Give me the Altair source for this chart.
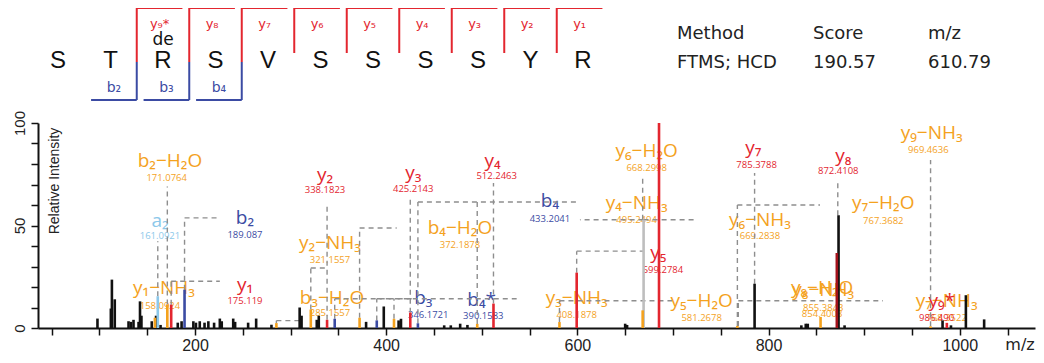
import altair as alt
import pandas as pd

# ---------------- spectrum data ----------------
# unannotated (black) peaks: m/z and relative intensity
other_mz = [
    98.0, 112.0, 113.1, 116.1, 130.5, 133.0, 135.7, 141.0, 142.5, 144.0,
    154.8, 159.3, 164.0, 182.0, 186.0, 198.3, 201.0, 205.0, 210.0, 214.0,
    220.0, 226.0, 228.0, 240.0, 242.0, 255.6, 264.0, 280.0, 309.5, 311.5,
    327.4, 329.5, 379.0, 397.5, 413.0, 415.5, 460.7, 467.6, 477.4, 485.0,
    650.0, 652.0, 834.3, 838.9, 841.0, 879.5, 982.0, 990.8, 1006.4, 1025.5,
    785.38, 873.2]
other_int = [
    4.6, 9.5, 23.6, 14.0, 3.3, 3.0, 4.0, 3.0, 13.0, 6.0,
    3.3, 6.0, 1.5, 2.6, 3.3, 3.3, 2.6, 3.3, 2.6, 3.3,
    2.6, 4.6, 3.3, 4.6, 3.0, 2.6, 4.6, 1.6, 10.0, 6.0,
    4.0, 6.0, 3.0, 10.5, 3.7, 4.5, 1.3, 1.3, 2.1, 1.5,
    2.1, 1.5, 1.3, 2.1, 2.1, 1.3, 3.7, 1.3, 16.0, 4.2,
    21.6, 55.0]

# annotated fragment-ion peaks
ion_mz = [161.09, 158.09, 171.08, 175.12, 189.09, 285.16, 321.16, 338.18, 346.17, 372.19,
          390.16, 408.19, 425.21, 433.20, 495.24, 512.25, 581.27, 599.28, 669.28, 668.30,
          685.4, 767.37, 854.40, 871.4, 969.46, 986.49]
ion_int = [15.5, 5.0, 11.5, 11.4, 18.7, 2.4, 9.0, 4.0, 4.5, 5.0,
           3.7, 4.5, 7.5, 2.3, 2.0, 11.9, 2.9, 27.0, 52.8, 8.6,
           100.0, 1.0, 5.4, 36.6, 0.8, 2.5]
ion_kind = ['a', 'loss', 'loss', 'y', 'b', 'loss', 'loss', 'y', 'b', 'loss',
            'b', 'loss', 'y', 'b', 'loss', 'y', 'loss', 'y', 'grey', 'loss',
            'y', 'loss', 'loss', 'ydark', 'loss', 'y']

# peak annotations
ann_label = ['b₂−H₂O', 'a₂', 'b₂', 'y₁', 'y₁−NH₃', 'y₂', 'y₂−NH₃', 'b₃−H₂O', 'y₃', 'y₄',
             'b₄', 'y₄−NH₃', 'b₄−H₂O', 'b₃', 'b₄*', 'y₃−NH₃', 'y₅', 'y₆−H₂O', 'y₆−NH₃', 'y₇',
             'y₇−H₂O', 'y₈', 'y₉−NH₃', 'y₇−NH₃', 'y₉*', 'y₈−NH₃', 'y₈−H₂O', 'y₅−H₂O']
ann_kind = ['loss', 'a', 'b', 'y', 'loss', 'y', 'loss', 'loss', 'y', 'y',
            'b', 'loss', 'loss', 'b', 'b', 'loss', 'y', 'loss', 'loss', 'y',
            'loss', 'y', 'loss', 'loss', 'y', 'loss', 'loss', 'loss']
ann_x = [173.8, 163.4, 252.3, 252.3, 167.6, 336.0, 341.2, 343.3, 428.3, 511.4,
         571.3, 662.0, 477.2, 438.8, 499.9, 599.3, 684.6, 672.5, 791.0, 784.0,
         920.0, 878.1, 970.6, 986.3, 981.1, 857.2, 856.0, 730.0]
ann_y = [81.3, 52.0, 53.7, 21.1, 19.5, 74.8, 41.5, 14.6, 75.6, 81.3,
         61.8, 61.0, 48.8, 14.6, 13.8, 14.6, 36.6, 86.2, 52.8, 87.8,
         61.0, 83.7, 95.0, 13.0, 13.0, 18.7, 19.5, 13.3]
ann_mz_text = ['171.0764', '161.0921', '189.087', '175.119', '158.0924', '338.1823', '321.1557',
               '285.1557', '425.2143', '512.2463', '433.2041', '495.2494', '372.1878', '346.1721',
               '390.1583', '408.1878', '599.2784', '668.2998', '669.2838', '785.3788', '767.3682',
               '872.4108', '969.4636', '768.3522', '986.490', '855.3843', '854.4003', '581.2678']
ann_mz_x = [170.4, 163.4, 252.3, 252.3, 163.4, 336.0, 341.2, 341.2, 428.3, 515.6,
            571.3, 662.0, 477.2, 444.0, 501.6, 599.3, 689.5, 672.5, 791.0, 787.5,
            920.0, 872.9, 967.1, 986.3, 975.8, 857.2, 856.0, 730.0]
ann_mz_y = [73.2, 44.7, 45.5, 13.3, 10.7, 67.5, 33.3, 7.3, 68.0, 74.0,
            53.2, 52.8, 40.6, 6.5, 5.7, 6.5, 28.4, 78.0, 44.7, 79.4,
            52.0, 76.4, 87.0, 5.0, 4.9, 10.0, 7.0, 4.9]

# dashed leader lines: peak m/z, start height, elbow height, horizontal end m/z
conn_mz = [171.08, 161.09, 189.09, 175.12, 338.18, 321.16, 285.16, 425.21, 512.25, 433.20,
           495.24, 372.19, 346.17, 390.16, 408.19, 599.28, 668.30, 669.28, 669.28, 785.38,
           767.37, 872.41, 969.46, 768.35, 581.27]
conn_from = [11.5, 15.5, 18.7, 11.4, 4.0, 9.0, 2.4, 7.5, 11.9, 2.3,
             2.0, 5.0, 4.5, 3.7, 4.5, 27.0, 52.8, 52.8, 52.8, 21.6,
             1.0, 55.0, 0.8, 1.0, 2.9]
conn_to = [69.0, 42.3, 53.7, 22.8, 61.0, 29.3, 3.6, 64.0, 70.7, 61.5,
           61.5, 48.8, 14.3, 14.3, 14.3, 37.5, 74.0, 52.8, 52.8, 75.6,
           60.0, 72.4, 82.0, 13.3, 13.3]
conn_end = [171.08, 161.09, 224.0, 226.0, 338.18, 338.18, 309.5, 425.21, 512.25, 599.3,
            495.24, 411.0, 428.0, 536.5, 408.19, 668.6, 668.30, 723.0, 602.7, 785.38,
            853.8, 872.41, 969.46, 919.7, 699.0]

# ---------------- sequence diagram data ----------------
sequence = list("STRSVSSSSYR")
y_ions = ['y₉*', 'y₈', 'y₇', 'y₆', 'y₅', 'y₄', 'y₃', 'y₂', 'y₁']
b_ions = ['b₂', 'b₃', 'b₄']
header_cols = [("Method", "FTMS; HCD"), ("Score", "190.57"), ("m/z", "610.79")]

# ---------------- styles ----------------
RED = "#E3262F"
BLUE = "#3B4BA3"
ORANGE = "#F4A21E"
kinds = ['other', 'y', 'b', 'a', 'loss', 'ydark', 'grey']
palette = ['#111111', RED, BLUE, '#8CC8EA', ORANGE, '#A3121C', '#BEBEBE']
cscale = alt.Scale(domain=kinds, range=palette)
color_enc = alt.Color('kind:N', scale=cscale, legend=None)

xscale = alt.Scale(domain=[35.8, 1078.7], nice=False, zero=False)
yscale = alt.Scale(domain=[0, 100], nice=False, zero=False)
x_axis = alt.Axis(values=list(range(50, 1051, 50)),
                  labelExpr="datum.value % 200 == 0 ? format(datum.value, 'd') : ''",
                  title=None, grid=False, tickSize=7, tickWidth=1.5, tickColor='#111',
                  domainWidth=2, domainColor='#111', labelFont='Liberation Sans',
                  labelFontSize=16, labelColor='#222', labelPadding=2,
                  labelOverlap=False, labelFlush=False)
y_axis = alt.Axis(values=list(range(0, 101, 10)),
                  labelExpr="datum.value % 50 == 0 ? format(datum.value, 'd') : ''",
                  title=None, grid=False, tickSize=7, tickWidth=1.5, tickColor='#111',
                  domainWidth=2, domainColor='#111', labelFont='Liberation Sans',
                  labelFontSize=15, labelColor='#222', labelAngle=270, labelAlign='center',
                  labelBaseline='bottom', labelPadding=4, labelOverlap=False, labelFlush=False)

# ---------------- tables ----------------
peaks = pd.DataFrame({
    'mz': other_mz + ion_mz,
    'inten': other_int + ion_int,
    'kind': ['other'] * len(other_mz) + ion_kind,
})
peaks['base'] = 0.0

seg_rows = []
for m, f, t, e in zip(conn_mz, conn_from, conn_to, conn_end):
    if f != t:
        seg_rows.append({'x': m, 'x2': m, 'y': f, 'y2': t})
    if e != m:
        seg_rows.append({'x': m, 'x2': e, 'y': t, 'y2': t})
segs = pd.DataFrame(seg_rows)

ann = pd.DataFrame({'label': ann_label, 'kind': ann_kind, 'lx': ann_x, 'ly': ann_y,
                    'mzt': ann_mz_text, 'mx': ann_mz_x, 'my': ann_mz_y})

X = lambda f: alt.X(f, scale=xscale, axis=x_axis)
Y = lambda f: alt.Y(f, scale=yscale, axis=y_axis)

label_layer = alt.Chart(ann).mark_text(font='Open Sans', fontSize=19, align='center',
                                        baseline='middle').encode(
    x=X('lx:Q'), y=Y('ly:Q'), text='label:N', color=color_enc)
mz_layer = alt.Chart(ann).mark_text(font='Open Sans', fontSize=9.5, align='center',
                                     baseline='middle').encode(
    x=X('mx:Q'), y=Y('my:Q'), text='mzt:N', color=color_enc)
conn_layer = alt.Chart(segs).mark_rule(color='#8E8E8E', strokeWidth=1.4,
                                        strokeDash=[5, 4]).encode(
    x=X('x:Q'), x2='x2:Q', y=Y('y:Q'), y2='y2:Q')
peak_layer = alt.Chart(peaks).mark_rule(strokeWidth=2.6).encode(
    x=X('mz:Q'), y=Y('base:Q'), y2='inten:Q', color=color_enc)


def text_at(txt, x, y, **kw):
    return alt.Chart(pd.DataFrame({'t': [txt]})).mark_text(**kw).encode(
        x=alt.value(x), y=alt.value(y), text='t:N')


plot_top = 125  # nominal pixel row of intensity 100 (layout reference)
extra = [
    text_at("Relative Intensity", 17, 183 - plot_top, angle=270, font='Liberation Sans',
            fontSize=14, color='#222', align='center', baseline='middle'),
    text_at("m/z", 982, 347 - plot_top, font='DejaVu Sans', fontSize=16, color='#222',
            align='center', baseline='middle'),
]
head_x = [677, 813, 928]
for (h, v), hx in zip(header_cols, head_x):
    extra.append(text_at(h, hx - 38, 36 - plot_top, font='DejaVu Sans', fontSize=18,
                         color='#222', align='left', baseline='middle'))
    extra.append(text_at(v, hx - 38, 65 - plot_top, font='DejaVu Sans', fontSize=18,
                         color='#222', align='left', baseline='middle'))

spectrum = alt.layer(label_layer, mz_layer, conn_layer, peak_layer, *extra)

# ---------------- sequence diagram (own scales) ----------------
dx = alt.Scale(domain=[0, 10], range=[20, 545], nice=False, zero=False)
dy = alt.Scale(domain=[0, 125], range=[-125, 0], nice=False, zero=False)
DX = lambda f: alt.X(f, scale=dx, axis=None)
DY = lambda f: alt.Y(f, scale=dy, axis=None)
BW = 0.87  # bracket width in residues

res = pd.DataFrame({'pos': list(range(len(sequence))), 'aa': sequence})
ycut = pd.DataFrame({'cut': [i + 1.5 for i in range(len(y_ions))], 'name': y_ions})
ycut['top'] = 10.0
ycut['bot'] = [64.0 if c <= 1.5 + len(b_ions) - 1 else 55.0 for c in ycut['cut']]
ycut['cut2'] = ycut['cut'] + BW
ycut['lab'] = ycut['cut'] + BW / 2
ycut['laby'] = 26.0
bcut = pd.DataFrame({'cut': [i + 1.5 for i in range(len(b_ions))], 'name': b_ions})
bcut['top'] = 64.0
bcut['bot'] = 102.0
bcut['cut0'] = bcut['cut'] - BW
bcut['lab'] = bcut['cut'] - BW / 2
bcut['laby'] = 90.0
de = pd.DataFrame({'pos': [2], 't': ['de'], 'yy': [42.0]})

diagram = alt.layer(
    alt.Chart(res).mark_text(font='Liberation Sans', fontSize=24, color='#111',
                             baseline='middle').encode(
        x=DX('pos:Q'), y=alt.value(63 - plot_top), text='aa:N'),
    alt.Chart(ycut).mark_rule(color=RED, strokeWidth=2).encode(
        x=DX('cut:Q'), y=DY('top:Q'), y2='bot:Q'),
    alt.Chart(ycut).mark_rule(color=RED, strokeWidth=2).encode(
        x=DX('cut:Q'), x2='cut2:Q', y=DY('top:Q')),
    alt.Chart(ycut).mark_text(font='DejaVu Sans', fontSize=13, color=RED,
                              baseline='middle').encode(
        x=DX('lab:Q'), y=DY('laby:Q'), text='name:N'),
    alt.Chart(bcut).mark_rule(color=BLUE, strokeWidth=2).encode(
        x=DX('cut:Q'), y=DY('top:Q'), y2='bot:Q'),
    alt.Chart(bcut).mark_rule(color=BLUE, strokeWidth=2).encode(
        x=DX('cut0:Q'), x2='cut:Q', y=DY('bot:Q')),
    alt.Chart(bcut).mark_text(font='DejaVu Sans', fontSize=14, color=BLUE,
                              baseline='middle').encode(
        x=DX('lab:Q'), y=DY('laby:Q'), text='name:N'),
    alt.Chart(de).mark_text(font='DejaVu Sans', fontSize=17, color='#111',
                            baseline='middle').encode(
        x=DX('pos:Q'), y=DY('yy:Q'), text='t:N'),
)

# the whole figure is lifted by 2 px so the bottom tick labels fit the page
chart = alt.layer(spectrum, diagram).resolve_scale(
    x='independent', y='independent'
).properties(
    width=997, height=205,
    padding={'left': 30, 'top': 115, 'right': 1, 'bottom': 27},
    autosize=alt.AutoSizeParams(type='none'),
).configure_view(stroke=None)

chart.save("out.html", embed_options={"renderer": "svg", "actions": False})
